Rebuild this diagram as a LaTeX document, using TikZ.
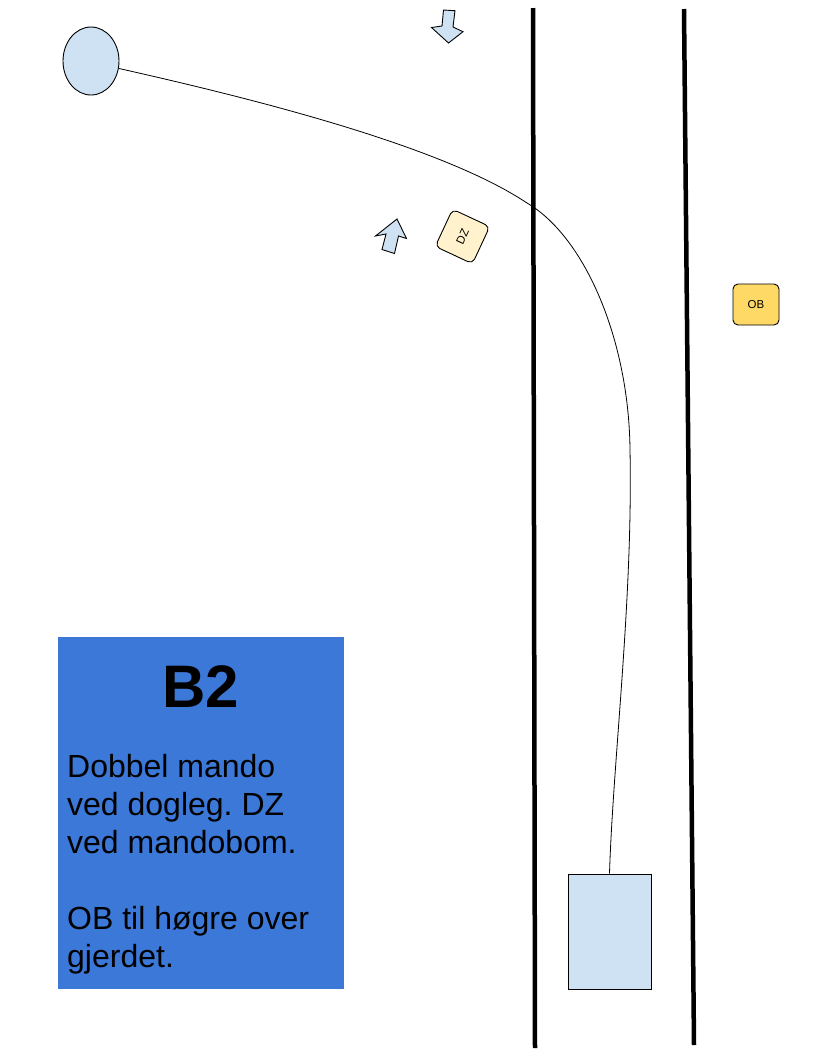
\documentclass[tikz,border=0pt]{standalone}
\usepackage{fontspec}
\setmainfont{Liberation Sans}
\usetikzlibrary{shapes.geometric}
\definecolor{lightblue}{HTML}{CFE2F3}
\definecolor{boxblue}{HTML}{3C78D8}
\definecolor{obyellow}{HTML}{FFD966}
\definecolor{dzyellow}{HTML}{FFF2CC}
\tikzset{
  shapeline/.style={draw=black, line width=0.9pt},
  roadline/.style={draw=black, line width=4.5pt},
  pathline/.style={draw=black, line width=0.8pt},
  flagbox/.style={shapeline, rounded corners=5pt, inner sep=0pt, font=\fontsize{11.5}{13}\selectfont},
  arrowshape/.style={shapeline, fill=lightblue, line join=miter}
}
\frenchspacing
\begin{document}
\begin{tikzpicture}[x=1pt,y=-1pt]
\useasboundingbox (0,0) rectangle (818,1050);
\fill[white] (0,0) rectangle (818,1050);

% road lines
\coordinate (l1) at (533,8);
\coordinate (l2) at (535,1048);
\coordinate (r1) at (684,9);
\coordinate (r2) at (694,1045);
\draw[roadline] (l1) -- (l2);
\draw[roadline] (r1) -- (r2);

% tee ellipse
\node[ellipse, shapeline, fill=lightblue, minimum width=56pt, minimum height=68pt, inner sep=0pt] (ell) at (91,61) {};

% basket rectangle
\node[rectangle, shapeline, fill=lightblue, minimum width=83pt, minimum height=115pt, inner sep=0pt] (car) at (609.5,931.5) {};

% flight path
\coordinate (p1) at (527,203);
\coordinate (p2) at (630,450);
\draw[pathline] (ell.-15) .. controls (250,98) and (440,145) .. (p1)
  .. controls (585,237) and (629,340) .. (p2)
  .. controls (633,600) and (613,760) .. (car.north);

% arrows
\draw[arrowshape] (443.5,10) -- (455,10.7) -- (453,27) -- (463,31.7) -- (448.5,43) -- (431.5,27.5) -- (442,26) -- cycle;
\draw[arrowshape] (397,219) -- (406.5,238.5) -- (398.5,236) -- (394.5,253.5) -- (382,249.5) -- (386,234) -- (375.5,236) -- cycle;

% DZ
\node[flagbox, fill=dzyellow, minimum width=41pt, minimum height=41pt, rotate=65] (dz) at (462.5,236.5) {DZ};

% OB
\node[flagbox, fill=obyellow, minimum width=46pt, minimum height=41pt] (ob) at (756,304.5) {OB};

% info box
\node[rectangle, fill=boxblue, minimum width=286pt, minimum height=352pt, inner sep=0pt] (info) at (201,813) {};
\node[font=\fontsize{60}{60}\selectfont\bfseries, inner sep=0pt] (title) at (201,687) {B2};
\node[anchor=north west, align=left, inner sep=0pt, font=\fontsize{32}{38}\selectfont] (desc) at (67,754) {Dobbel mando\\ved dogleg. DZ\\ved mandobom.\\[38pt]OB til høgre over\\gjerdet.};
\end{tikzpicture}
\end{document}
